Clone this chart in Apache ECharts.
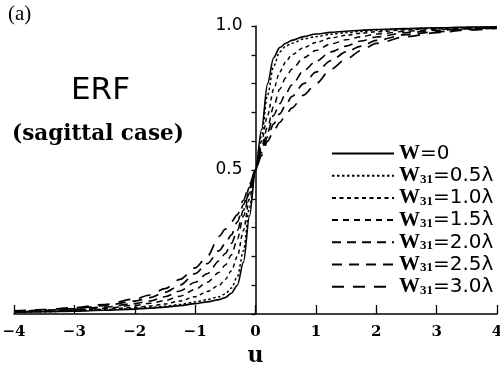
<!DOCTYPE html>
<html>
<head>
<meta charset="utf-8">
<script src="https://cdn.jsdelivr.net/npm/echarts@6/dist/echarts.min.js"></script>
<style>html,body{margin:0;padding:0;background:#fff}#c{width:500px;height:365px}</style>
</head>
<body>
<div id="c"></div>
<script>
// u positions (shared by all curves)
const uValues = [-4,-3.5,-3,-2.5,-2,-1.75,-1.5,-1.25,-1,-0.8,-0.6,-0.5,-0.4,-0.3,-0.2,-0.1,
                 0,0.1,0.2,0.3,0.4,0.5,0.6,0.8,1,1.25,1.5,1.75,2,2.5,3,3.5,4];
const seriesNames = ['W=0','W31=0.5λ','W31=1.0λ','W31=1.5λ','W31=2.0λ','W31=2.5λ','W31=3.0λ'];
const erfW0   = [0.006,0.008,0.010,0.013,0.017,0.020,0.024,0.029,0.036,0.042,0.050,0.057,0.072,0.100,0.180,0.340,
                 0.5,0.64,0.80,0.89,0.925,0.94,0.95,0.963,0.972,0.978,0.982,0.985,0.988,0.991,0.994,0.996,0.997];
const erfW05  = [0.006,0.008,0.011,0.015,0.019,0.023,0.027,0.033,0.042,0.050,0.060,0.070,0.090,0.130,0.220,0.370,
                 0.5,0.62,0.76,0.86,0.91,0.93,0.94,0.955,0.963,0.971,0.977,0.981,0.985,0.990,0.993,0.995,0.997];
const erfW10  = [0.007,0.009,0.012,0.017,0.023,0.028,0.035,0.045,0.060,0.078,0.100,0.120,0.150,0.200,0.290,0.400,
                 0.5,0.60,0.69,0.78,0.84,0.875,0.90,0.925,0.943,0.958,0.968,0.975,0.980,0.987,0.991,0.994,0.996];
const erfW15  = [0.008,0.010,0.014,0.020,0.030,0.037,0.047,0.062,0.085,0.110,0.145,0.170,0.205,0.260,0.340,0.420,
                 0.5,0.58,0.65,0.72,0.78,0.82,0.85,0.89,0.915,0.938,0.952,0.963,0.972,0.982,0.988,0.992,0.995];
const erfW20  = [0.009,0.012,0.016,0.024,0.036,0.045,0.060,0.080,0.110,0.140,0.185,0.210,0.245,0.290,0.360,0.430,
                 0.5,0.57,0.63,0.69,0.73,0.765,0.795,0.845,0.877,0.91,0.93,0.948,0.962,0.977,0.985,0.990,0.994];
const erfW25  = [0.010,0.013,0.019,0.029,0.045,0.057,0.075,0.100,0.140,0.175,0.220,0.245,0.275,0.320,0.380,0.440,
                 0.5,0.56,0.615,0.66,0.695,0.725,0.755,0.80,0.84,0.88,0.91,0.93,0.95,0.97,0.98,0.988,0.993];
const erfW30  = [0.011,0.015,0.022,0.033,0.052,0.066,0.088,0.120,0.160,0.200,0.270,0.295,0.320,0.345,0.395,0.450,
                 0.5,0.55,0.60,0.635,0.665,0.69,0.715,0.76,0.80,0.85,0.885,0.915,0.94,0.963,0.977,0.986,0.992];
const xTicks = [-4,-3,-2,-1,0,1,2,3,4];
const yTickLabels = ['0.5','1.0'];

const allCurves = [erfW0, erfW05, erfW10, erfW15, erfW20, erfW25, erfW30];
const dashes = ['solid',[2.5,2.5],[4,3.5],[6,5],[9,6],[10,7],[12,9]];
const widths = [1.6,1.5,1.5,1.5,1.6,1.7,1.7];

const chart = echarts.init(document.getElementById('c'));
const series = allCurves.map((vals, i) => ({
  name: seriesNames[i],
  type: 'line',
  data: uValues.map((u, k) => [u, vals[k]]),
  symbol: 'none',
  showSymbol: false,
  smooth: 0.3,
  smoothMonotone: 'x',
  lineStyle: {color: '#000', width: widths[i], type: dashes[i]},
  itemStyle: {color: '#000'},
  z: 10 - i
}));

const GRID = {left: 14, right: 3, top: 26, bottom: 51, outerBoundsMode: 'none', containLabel: false};

function buildOption(yOffset) {
  return {
    animation: false,
    backgroundColor: '#fff',
    grid: GRID,
    xAxis: {
      type: 'value', min: -4, max: 4, interval: 1,
      axisLine: {lineStyle: {color: '#000', width: 1.5}},
      axisTick: {inside: true, length: 9, lineStyle: {color: '#000', width: 1.3}},
      axisLabel: {
        color: '#000', fontFamily: 'DejaVu Serif', fontWeight: 'bold', fontSize: 15, margin: 11,
        formatter: v => xTicks.includes(v) ? String(v).replace('-', '\u2212') : ''
      },
      splitLine: {show: false},
      name: 'u', nameLocation: 'middle', nameGap: 29,
      nameTextStyle: {color: '#000', fontFamily: 'DejaVu Serif', fontWeight: 'bold', fontSize: 22}
    },
    yAxis: {
      type: 'value', min: 0, max: 1, interval: 0.1,
      position: 'left', offset: yOffset,
      axisLine: {onZero: false, lineStyle: {color: '#000', width: 1.5}},
      axisTick: {length: 4, lineStyle: {color: '#000', width: 1.3}},
      axisLabel: {
        color: '#000', fontFamily: 'DejaVu Sans', fontSize: 17, margin: 13,
        formatter: v => { const s = v.toFixed(1); return yTickLabels.includes(s) ? s : ''; }
      },
      splitLine: {show: false}
    },
    legend: {
      orient: 'vertical', left: 326, top: 138,
      itemWidth: 62, itemHeight: 14, itemGap: 1.2,
      data: seriesNames,
      itemStyle: {opacity: 0},
      formatter: name => name === 'W=0' ? '{w|W}{a|=0}' : '{w|W}{s|31}{a|' + name.slice(3) + '}',
      textStyle: {
        color: '#000', lineHeight: 20,
        rich: {
          w: {fontFamily: 'Liberation Serif', fontWeight: 'bold', fontSize: 21, color: '#000', lineHeight: 20},
          a: {fontFamily: 'DejaVu Sans', fontSize: 20, color: '#000', lineHeight: 20},
          s: {fontFamily: 'Liberation Serif', fontWeight: 'bold', fontSize: 13, color: '#000', lineHeight: 20, verticalAlign: 'bottom'}
        }
      }
    },
    graphic: [
      {type: 'text', left: 8, top: 4, style: {text: '(a)', fontFamily: 'Liberation Serif', fontSize: 21, fill: '#000'}},
      {type: 'text', left: 71, top: 75, style: {text: 'ERF', fontFamily: 'DejaVu Sans', fontSize: 31, fill: '#000'}},
      {type: 'text', left: 12, top: 123, style: {text: '(sagittal case)', fontFamily: 'DejaVu Serif', fontWeight: 'bold', fontSize: 21.5, fill: '#000'}}
    ],
    series: series
  };
}

chart.setOption(buildOption(0));
// place the y axis at u = 0 using the library's own scale
const zeroPx = chart.convertToPixel({xAxisIndex: 0}, 0);
chart.setOption({yAxis: {offset: -(zeroPx - GRID.left)}});
</script>
</body>
</html>
